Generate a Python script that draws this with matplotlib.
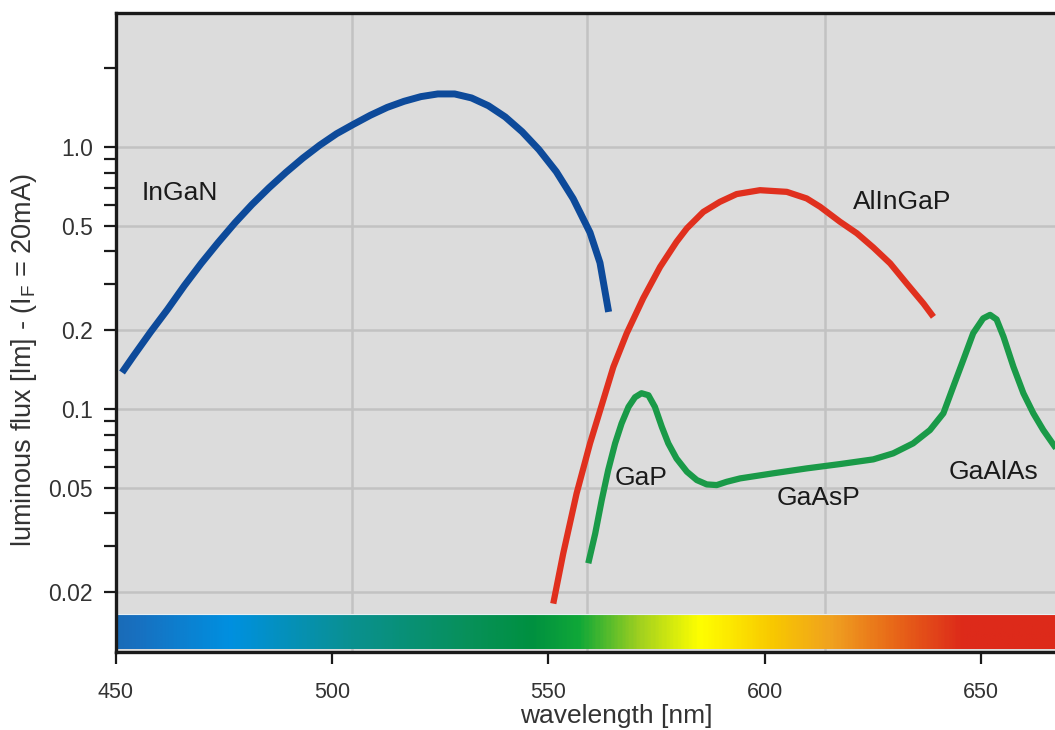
import matplotlib.pyplot as plt
import numpy as np
from matplotlib.colors import LinearSegmentedColormap
from matplotlib.transforms import blended_transform_factory

plt.rcParams['font.family'] = ['Liberation Sans', 'DejaVu Sans']
plt.rcParams['mathtext.fontset'] = 'custom'
plt.rcParams['mathtext.rm'] = 'Liberation Sans'
plt.rcParams['mathtext.it'] = 'Liberation Sans:italic'

# luminous flux curves: wavelength [nm], flux [lm]
ingan_wl = [451.4, 454.1, 458.0, 461.9, 465.8, 469.7, 473.6, 477.5, 481.4,
            485.4, 489.3, 493.2, 497.1, 501.0, 504.9, 508.8, 512.7, 516.6,
            520.5, 524.4, 528.3, 532.2, 536.1, 540.0, 543.9, 547.8, 551.8,
            555.7, 559.6, 561.9, 563.9]
ingan_flux = [0.138, 0.160, 0.197, 0.240, 0.296, 0.360, 0.432, 0.514, 0.603,
              0.700, 0.801, 0.908, 1.017, 1.125, 1.222, 1.323, 1.418, 1.496,
              1.559, 1.596, 1.596, 1.541, 1.439, 1.304, 1.145, 0.978, 0.806,
              0.636, 0.472, 0.362, 0.235]

alingap_wl = [551.1, 553.4, 556.5, 559.6, 562.3, 565.0, 568.1, 571.9, 575.8,
              579.6, 582.0, 585.8, 589.6, 593.5, 598.9, 605.1, 609.7, 612.8,
              617.4, 621.3, 625.1, 629.0, 632.8, 636.7, 639.0]
alingap_flux = [0.0181, 0.0281, 0.0477, 0.0740, 0.1035, 0.145, 0.195, 0.265,
                0.349, 0.435, 0.490, 0.566, 0.618, 0.662, 0.685, 0.675, 0.637,
                0.592, 0.519, 0.469, 0.414, 0.360, 0.302, 0.253, 0.225]

# GaP / GaAsP / GaAlAs drawn as one green trace
ga_wl = [559.2, 560.8, 562.3, 563.8, 565.4, 566.9, 568.5, 570.0, 571.5, 573.1,
         574.6, 576.2, 577.7, 579.6, 582.0, 584.3, 586.6, 588.9, 591.2, 594.3,
         602.0, 609.7, 617.4, 625.1, 629.7, 634.3, 638.2, 641.3, 643.6, 645.9,
         648.2, 650.5, 652.1, 653.6, 655.2, 657.5, 659.8, 662.1, 664.4, 667.1,
         669.0]
ga_flux = [0.0258, 0.0335, 0.0449, 0.0585, 0.0740, 0.0882, 0.102, 0.111, 0.115,
           0.113, 0.102, 0.0856, 0.0740, 0.0648, 0.0577, 0.0536, 0.0516, 0.0513,
           0.0528, 0.0544, 0.0569, 0.0594, 0.0617, 0.0643, 0.0678, 0.0740,
           0.0832, 0.0964, 0.122, 0.154, 0.195, 0.222, 0.229, 0.220, 0.189,
           0.145, 0.115, 0.0964, 0.0832, 0.0718, 0.066]

# curve labels
label_text = ['InGaN', 'AlInGaP', 'GaP', 'GaAsP', 'GaAlAs']
label_wl = [456.0, 620.4, 565.4, 602.8, 642.6]
label_flux = [0.667, 0.617, 0.0546, 0.0458, 0.0574]

# axis ticks and grid
x_ticks = [450, 500, 550, 600, 650]
y_ticks = [0.02, 0.05, 0.1, 0.2, 0.5, 1.0]
y_tick_labels = ['0.02', '0.05', '0.1', '0.2', '0.5', '1.0']
y_minor = [0.03, 0.04, 0.06, 0.07, 0.08, 0.09, 0.3, 0.4, 0.6, 0.7, 0.8, 0.9, 2.0]
x_grid = [504.5, 559.0, 614.0]

# spectrum band colour stops
spec_wl = [450, 454, 476, 504, 532, 546, 557, 571, 585, 602, 616, 630, 646, 670]
spec_col = ['#1a6cb8', '#1870c0', '#0090e0', '#0a9090', '#079058', '#009040',
            '#10a838', '#a0d020', '#ffff00', '#f8c800', '#f0a020', '#e86818',
            '#dd2a1a', '#dd2a1a']

fig = plt.figure(figsize=(10.55, 7.3), dpi=100)
ax = fig.add_axes([0.10995, 0.10685, 0.9019, 0.8753])
ax.set_facecolor('#dcdcdc')

for g in x_grid:
    ax.axvline(g, color='#c2c2c2', lw=1.8, zorder=1)
for g in y_ticks:
    ax.axhline(g, color='#c2c2c2', lw=1.8, zorder=1)

# colour band along the bottom
lo, hi = spec_wl[0], spec_wl[-1]
cmap = LinearSegmentedColormap.from_list(
    'spec', [((w - lo) / (hi - lo), c) for w, c in zip(spec_wl, spec_col)])
band = np.linspace(0, 1, 600).reshape(1, -1)
trans = blended_transform_factory(ax.transData, ax.transAxes)
ax.imshow(band, cmap=cmap, aspect='auto', extent=[lo, hi, 0.004, 0.06],
          transform=trans, zorder=2, interpolation='bilinear')
ax.plot([lo, hi], [0.06, 0.06], color='#e8f0f4', lw=0.8, transform=trans, zorder=2)

ax.plot(ingan_wl, ingan_flux, color='#0d4a9a', lw=5, solid_capstyle='butt',
        solid_joinstyle='round', zorder=4)
ax.plot(alingap_wl, alingap_flux, color='#e0301e', lw=4.5, solid_capstyle='butt',
        solid_joinstyle='round', zorder=4)
ax.plot(ga_wl, ga_flux, color='#1a9a48', lw=4.5, solid_capstyle='butt',
        solid_joinstyle='round', zorder=5)

for t, x, y in zip(label_text, label_wl, label_flux):
    ax.text(x, y, t, fontsize=19, color='#1a1a1a', va='center', ha='left', zorder=6)

ax.set_yscale('log')
ax.set_xlim(450, 670)
ax.set_ylim(0.01183, 3.25)
ax.set_xticks(x_ticks)
ax.set_yticks(y_ticks)
ax.set_yticklabels(y_tick_labels)
ax.set_yticks(y_minor, minor=True)
ax.yaxis.set_minor_formatter(plt.NullFormatter())
ax.tick_params(axis='both', which='both', direction='out', length=8.5, width=1.6,
               color='#1a1a1a', labelcolor='#333333')
ax.tick_params(axis='y', labelsize=16.5, pad=8)
ax.tick_params(axis='x', labelsize=15.5, pad=13)

for side in ['left', 'top', 'bottom']:
    ax.spines[side].set_linewidth(2.4)
    ax.spines[side].set_color('#1a1a1a')
ax.spines['right'].set_visible(False)

ax.set_xlabel('wavelength [nm]', fontsize=19, color='#333333')
ax.xaxis.set_label_coords(0.5255, -0.1111)
ax.xaxis.label.set_va('baseline')
ax.set_ylabel('luminous flux [lm] - (I$_{\\rm F}$ = 20mA)', fontsize=19.5, color='#333333')
ax.yaxis.set_label_coords(-0.0968, 0.457)
ax.yaxis.label.set_va('center')

fig.savefig('out.png', dpi=100)
